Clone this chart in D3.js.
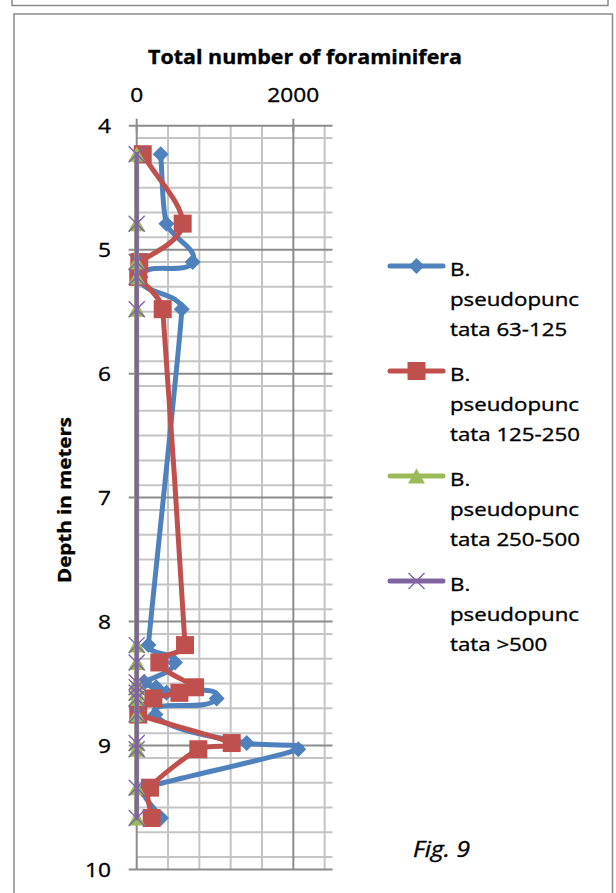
<!DOCTYPE html>
<html>
<head>
<meta charset="utf-8">
<script src="https://cdn.jsdelivr.net/npm/d3@7"></script>
<style>
  html, body { margin: 0; padding: 0; background: #fff; }
  svg { display: block; }
  text { font-family: "Open Sans", "Noto Sans", sans-serif; fill: #000; stroke: #000; stroke-width: 0.35px; }
</style>
</head>
<body>
<svg id="chart" width="616" height="893"></svg>
<script>
// Sample depths (m) shared by the four size fractions
const depths = [4.23, 4.79, 5.1, 5.22, 5.48, 8.19, 8.33, 8.49, 8.53, 8.575, 8.62, 8.75, 8.98, 9.03, 9.34, 9.585];

// Counts per fraction at each depth (null = no sample plotted)
const frac63_125  = [306, 380, 715, 50, 575, 150, 489, 100, 250, 380, 1021, 240, 1404, 2063, 120, 310];
const frac125_250 = [77, 587, 33, 20, 332, 617, 289, null, 745, 545, 213, 20, 1213, 787, 170, 191];
const frac250_500 = [0, 0, 0, 0, 0, 0, 0, 0, 0, 0, 0, 0, 0, 0, 0, 0];
const frac500     = [0, 0, 0, 0, 0, 0, 0, 0, 0, 0, 0, 0, 0, 0, 0, 0];

const seriesNames = [
  ["B.", "pseudopunc", "tata 63-125"],
  ["B.", "pseudopunc", "tata 125-250"],
  ["B.", "pseudopunc", "tata 250-500"],
  ["B.", "pseudopunc", "tata >500"]
];

// Axis ticks
const xMajorTicks = [0, 2000];
const xMinorTicks = [400, 800, 1200, 1600, 2000, 2400];
const yMajorTicks = [4, 5, 6, 7, 8, 9, 10];
const yMinorTicks = d3.range(41, 100, 2).map(v => v / 10);

const chartTitle = "Total number of foraminifera";
const yTitle = "Depth in meters";
const figLabel = "Fig. 9";

const svg = d3.select("#chart");

// Frames around the figure
svg.append("path")
  .attr("d", "M12,0 V5.5 H608 V0")
  .attr("fill", "none").attr("stroke", "#8a8a8a").attr("stroke-width", 1.5);
svg.append("path")
  .attr("d", "M14,900 V14 H612.5 V900")
  .attr("fill", "none").attr("stroke", "#8a8a8a").attr("stroke-width", 1.5);

const x = d3.scaleLinear().domain([0, 2500]).range([136.7, 332.5]);
const y = d3.scaleLinear().domain([4, 10]).range([125.7, 869.5]);

const grid = svg.append("g");
const minorColor = "#c4c4c4", majorColor = "#8c8c8c";

// Minor horizontal gridlines
grid.selectAll(".hmin").data(yMinorTicks.filter(v => Math.abs(v - Math.round(v)) > 1e-6))
  .join("line")
  .attr("x1", x(0)).attr("x2", x(2500))
  .attr("y1", d => y(d)).attr("y2", d => y(d))
  .attr("stroke", minorColor).attr("stroke-width", 2);

// Minor vertical gridlines
grid.selectAll(".vmin").data(xMinorTicks.filter(v => !xMajorTicks.includes(v)))
  .join("line")
  .attr("x1", d => x(d)).attr("x2", d => x(d))
  .attr("y1", y(4)).attr("y2", y(10))
  .attr("stroke", minorColor).attr("stroke-width", 2);

// Major vertical gridlines
grid.selectAll(".vmaj").data(xMajorTicks.filter(v => v > 0))
  .join("line")
  .attr("x1", d => x(d)).attr("x2", d => x(d))
  .attr("y1", y(4)).attr("y2", y(10))
  .attr("stroke", majorColor).attr("stroke-width", 2);

// Major horizontal gridlines with outward tick marks
grid.selectAll(".hmaj").data(yMajorTicks)
  .join("line")
  .attr("x1", x(0) - 8).attr("x2", x(2500))
  .attr("y1", d => y(d)).attr("y2", d => y(d))
  .attr("stroke", majorColor).attr("stroke-width", 2);

// Vertical axis line
grid.append("line")
  .attr("x1", x(0)).attr("x2", x(0)).attr("y1", y(4)).attr("y2", y(10))
  .attr("stroke", majorColor).attr("stroke-width", 2);

// Top axis major ticks (cross)
grid.selectAll(".xtick").data(xMajorTicks)
  .join("line")
  .attr("x1", d => x(d)).attr("x2", d => x(d))
  .attr("y1", y(4) - 7).attr("y2", y(4) + 6)
  .attr("stroke", majorColor).attr("stroke-width", 2);

// Horizontal stretch helpers
function fit(sel, width) {
  sel.each(function () {
    const t = d3.select(this);
    const w = this.getComputedTextLength();
    const tx = +t.attr("data-x"), ty = +t.attr("data-y"), rot = +(t.attr("data-r") || 0);
    t.attr("transform", `translate(${tx},${ty}) rotate(${rot}) scale(${width / w},1)`);
  });
}
function scaleBy(sel, sx) {
  sel.each(function () {
    const t = d3.select(this);
    const tx = +t.attr("data-x"), ty = +t.attr("data-y");
    t.attr("transform", `translate(${tx},${ty}) scale(${sx},1)`);
  });
}

// Tick labels
const tickSize = 20.5;
const xLabels = svg.selectAll(".xl").data(xMajorTicks).join("text")
  .attr("data-x", d => x(d)).attr("data-y", 102)
  .attr("text-anchor", "middle").attr("font-size", tickSize)
  .text(d => d);
const yLabels = svg.selectAll(".yl").data(yMajorTicks).join("text")
  .attr("data-x", 111).attr("data-y", d => y(d) + 7.4)
  .attr("text-anchor", "end").attr("font-size", tickSize)
  .text(d => d);
const probe = xLabels.filter(d => d === 2000).node();
const tickSx = 52 / probe.getComputedTextLength();
scaleBy(xLabels, tickSx);
scaleBy(yLabels, tickSx);

// Titles
const title = svg.append("text")
  .attr("data-x", 305).attr("data-y", 64)
  .attr("text-anchor", "middle").attr("font-size", 19).attr("font-weight", "bold")
  .text(chartTitle);
fit(title, 314);

const yT = svg.append("text")
  .attr("data-x", 71).attr("data-y", 500).attr("data-r", -90)
  .attr("text-anchor", "middle").attr("font-size", 18.5).attr("font-weight", "bold")
  .text(yTitle);
fit(yT, 166);

// Series
const colors = ["#4f81bd", "#c0504d", "#9bbb59", "#8064a2"];
const allSeries = [frac63_125, frac125_250, frac250_500, frac500];
const markers = ["diamond", "square", "triangle", "x"];

function drawMarker(g, type, color) {
  if (type === "diamond") {
    g.append("path").attr("d", "M0,-8 L8,0 L0,8 L-8,0 Z").attr("fill", color);
  } else if (type === "square") {
    g.append("rect").attr("x", -9).attr("y", -9).attr("width", 18).attr("height", 18).attr("fill", color);
  } else if (type === "triangle") {
    g.append("path").attr("d", "M0,-7.5 L8.5,7.5 L-8.5,7.5 Z").attr("fill", color);
  } else {
    g.append("path").attr("d", "M-8,-8 L8,8 M-8,8 L8,-8").attr("stroke", color)
      .attr("stroke-width", 1.4).attr("fill", "none");
  }
}

// Smoothed path: tangent along the neighbour chord, handle length limited
// by the shorter adjacent segment so long runs stay nearly straight.
function smoothPath(pts) {
  const p = d3.path();
  const n = pts.length;
  const dist = (a, b) => Math.hypot(b[0] - a[0], b[1] - a[1]);
  const tang = pts.map((pt, i) => {
    const a = pts[Math.max(0, i - 1)], b = pts[Math.min(n - 1, i + 1)];
    const dx = b[0] - a[0], dy = b[1] - a[1];
    const len = Math.hypot(dx, dy) || 1;
    const dPrev = i > 0 ? dist(pts[i - 1], pt) : Infinity;
    const dNext = i < n - 1 ? dist(pt, pts[i + 1]) : Infinity;
    const h = Math.min(dPrev, dNext) / 3;
    return [dx / len * h, dy / len * h];
  });
  p.moveTo(pts[0][0], pts[0][1]);
  for (let i = 0; i < n - 1; i++) {
    const a = pts[i], b = pts[i + 1];
    p.bezierCurveTo(a[0] + tang[i][0], a[1] + tang[i][1],
                    b[0] - tang[i + 1][0], b[1] - tang[i + 1][1],
                    b[0], b[1]);
  }
  return p.toString();
}

allSeries.forEach((vals, i) => {
  const pts = depths.map((depth, k) => ({ depth, v: vals[k] })).filter(p => p.v !== null);
  const g = svg.append("g");
  g.append("path")
    .attr("d", smoothPath(pts.map(p => [x(p.v), y(p.depth)])))
    .attr("fill", "none").attr("stroke", colors[i]).attr("stroke-width", i === 3 ? 4.2 : 5)
    .attr("stroke-linejoin", "round").attr("stroke-linecap", "round");
  pts.forEach(p => {
    const mg = g.append("g").attr("transform", `translate(${x(p.v)},${y(p.depth)})`);
    drawMarker(mg, markers[i], colors[i]);
  });
});

// Legend
const legend = svg.append("g");
const legTexts = [];
seriesNames.forEach((lines, i) => {
  const ly = 266 + i * 105;
  legend.append("line")
    .attr("x1", 390).attr("x2", 443).attr("y1", ly).attr("y2", ly)
    .attr("stroke", colors[i]).attr("stroke-width", 5).attr("stroke-linecap", "round");
  const mg = legend.append("g").attr("transform", `translate(416.5,${ly})`);
  drawMarker(mg, markers[i], colors[i]);
  lines.forEach((s, j) => {
    const t = legend.append("text")
      .attr("data-x", 450).attr("data-y", ly + 10 + j * 30)
      .attr("font-size", 19).text(s);
    legTexts.push(t.node());
  });
});
const legProbe = legTexts[5];
const legSx = 130 / legProbe.getComputedTextLength();
scaleBy(d3.selectAll(legTexts), legSx);

// Figure label
const fig = svg.append("text")
  .attr("data-x", 413).attr("data-y", 857)
  .attr("font-family", "'Liberation Serif', serif").attr("font-style", "italic")
  .attr("font-size", 21).attr("stroke-width", 0).text(figLabel);
fit(fig, 57);
</script>
</body>
</html>
